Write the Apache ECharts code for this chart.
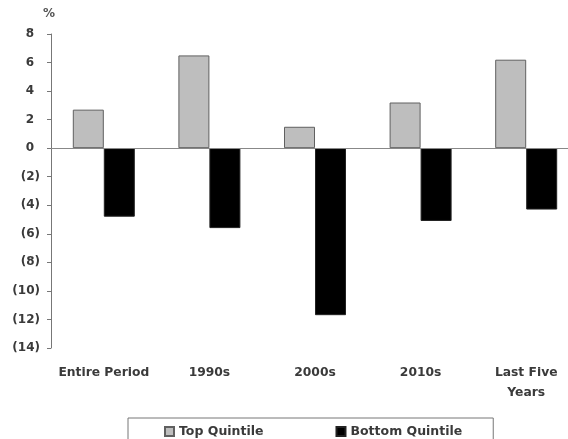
<!DOCTYPE html>
<html>
<head>
<meta charset="utf-8">
<script src="https://cdn.jsdelivr.net/npm/echarts@6/dist/echarts.min.js"></script>
<style>
  html, body { margin: 0; padding: 0; background: #fff; }
  #chart { width: 568px; height: 439px; }
</style>
</head>
<body>
<div id="chart"></div>
<script>
// Period categories and quintile returns (%)
const categories = ['Entire Period', '1990s', '2000s', '2010s', 'Last Five\nYears'];
const topQuintile = [2.7, 6.5, 1.5, 3.2, 6.2];
const bottomQuintile = [-4.8, -5.6, -11.7, -5.1, -4.3];
const yTicks = { min: -14, max: 8, step: 2 };

const FONT = 'DejaVu Sans';
const TEXT = '#3a3a3a';
const chart = echarts.init(document.getElementById('chart'), null, { renderer: 'canvas' });

// Accounting style: negatives in parentheses, positives padded so digits line up
function fmtTick(v) {
  return v < 0 ? '{n|(' + Math.abs(v) + ')}' : '{p|' + v + '}';
}

chart.setOption({
  animation: false,
  backgroundColor: '#ffffff',
  textStyle: { fontFamily: FONT },
  grid: { left: 51, top: 34, width: 528, height: 314, containLabel: false, outerBoundsMode: 'none' },
  graphic: [{
    type: 'text', left: 43, top: 8,
    style: { text: '%', font: 'bold 12px "DejaVu Sans"', fill: '#555' }
  }],
  legend: {
    left: 128, top: 418,
    itemWidth: 9, itemHeight: 9, itemGap: 72,
    icon: 'rect',
    padding: [7, 31, 20, 36],
    borderColor: '#777', borderWidth: 1,
    textStyle: { fontFamily: FONT, fontSize: 12.5, fontWeight: 'bold', color: TEXT },
    data: ['Top Quintile', 'Bottom Quintile']
  },
  xAxis: {
    type: 'category',
    data: categories,
    axisLine: { show: false, onZero: false },
    axisTick: { show: false },
    axisLabel: {
      margin: 15, fontFamily: FONT, fontSize: 12.3, fontWeight: 'bold', color: TEXT,
      lineHeight: 20, interval: 0
    }
  },
  yAxis: {
    type: 'value',
    min: yTicks.min, max: yTicks.max, interval: yTicks.step,
    axisLine: { show: true, lineStyle: { color: '#777', width: 1 } },
    axisTick: { show: true, length: 4, lineStyle: { color: '#777' } },
    splitLine: { show: false },
    axisLabel: {
      margin: 11, formatter: fmtTick,
      rich: {
        n: { fontFamily: FONT, fontSize: 12, fontWeight: 'bold', color: TEXT },
        p: { fontFamily: FONT, fontSize: 12, fontWeight: 'bold', color: TEXT, padding: [0, 6, 0, 0] }
      }
    }
  },
  series: [
    {
      name: 'Top Quintile', type: 'bar', data: topQuintile,
      barWidth: 31, barGap: '0%',
      itemStyle: { color: '#bebebe', borderColor: '#606060', borderWidth: 1 },
      markLine: {
        silent: true, symbol: 'none', label: { show: false },
        lineStyle: { color: '#888', width: 1, type: 'solid' },
        data: [{ yAxis: 0 }]
      }
    },
    {
      name: 'Bottom Quintile', type: 'bar', data: bottomQuintile,
      barWidth: 31, barGap: '0%',
      itemStyle: { color: '#000', borderColor: '#222', borderWidth: 1 }
    }
  ]
});
</script>
</body>
</html>
